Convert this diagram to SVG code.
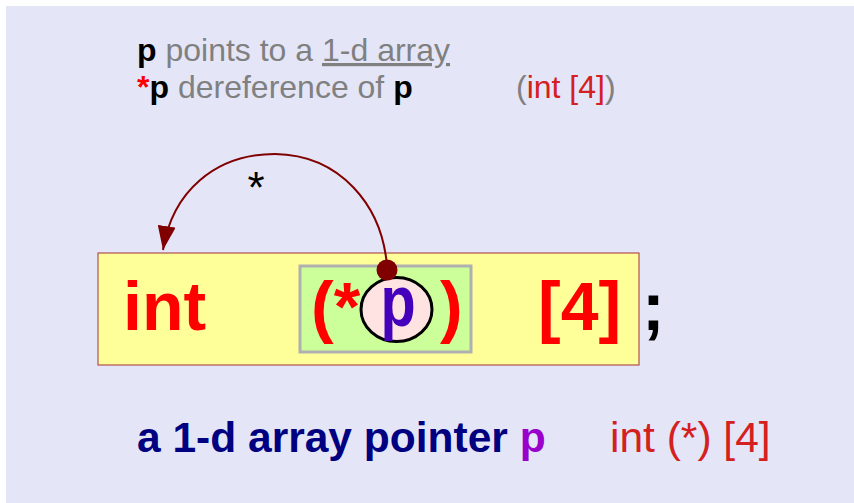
<svg xmlns="http://www.w3.org/2000/svg" width="854" height="503" viewBox="0 0 854 503">
<defs>
<style>
.sans{font-family:"Liberation Sans",Arial,sans-serif}
.gray{fill:#808080}
.blk{fill:#000;font-weight:bold}
.red{fill:#ff0000;font-weight:bold}
.dred{fill:#d42020}
.code{font-size:68px;font-weight:bold}
</style>
<marker id="arrow" markerWidth="24" markerHeight="18" refX="24" refY="9" orient="auto" markerUnits="userSpaceOnUse" viewBox="0 0 24 18">
<path d="M0,0 L24,9 L0,18 Z" fill="#800000"/>
</marker>
</defs>
<rect x="0" y="0" width="854" height="503" fill="#ffffff"/>
<rect x="6" y="6" width="848" height="497" fill="#e4e6f8"/>

<g id="caption" class="sans">
<text x="137" y="61" font-size="32"><tspan class="blk">p</tspan><tspan class="gray"> points to a </tspan><tspan class="gray" text-decoration="underline">1-d array</tspan></text>
<text x="137" y="98" font-size="32"><tspan class="red">*</tspan><tspan class="blk">p</tspan><tspan class="gray"> dereference of </tspan><tspan class="blk">p</tspan></text>
<text x="516" y="98" font-size="32"><tspan class="gray">(</tspan><tspan class="dred">int [4]</tspan><tspan class="gray">)</tspan></text>
</g>

<g id="decl">
<rect x="98" y="253" width="541" height="112" fill="#ffff99" stroke="#b05050" stroke-width="1.2"/>
<text class="sans code" x="123" y="330" fill="#ff0000">int</text>
<text class="sans code" x="538" y="330" fill="#ff0000">[4]</text>
<text class="sans code" x="642" y="330" fill="#000000">;</text>
</g>

<g id="ptr">
<rect x="300" y="266" width="171" height="86" fill="#ccff99" stroke="#b0b0b0" stroke-width="3"/>
<text class="sans code" x="311" y="330" fill="#ff0000">(*</text>
<text class="sans code" x="440" y="330" fill="#ff0000">)</text>
</g>

<g id="p-node">
<ellipse cx="396.5" cy="309.5" rx="35.5" ry="32" fill="#ffe2e2" stroke="#000" stroke-width="3"/>
<text class="sans" x="398" y="326" font-size="72" font-weight="bold" fill="#4400bb" text-anchor="middle" transform="translate(398 0) scale(0.8 1) translate(-398 0)">p</text>
</g>

<g id="connectors">
<path d="M387,266 C382,205 340,155 275,154 C215,154 172,192 163,250" fill="none" stroke="#800000" stroke-width="2" marker-end="url(#arrow)"/>
<circle cx="387" cy="270" r="10.5" fill="#800000"/>
<text class="sans" x="256" y="203" font-size="44" fill="#000" text-anchor="middle">*</text>
</g>

<g id="summary" class="sans" font-size="42.5">
<text x="137" y="452" font-weight="bold" fill="#000080">a 1-d array pointer <tspan fill="#9900cc">p</tspan></text>
<text x="610" y="452" fill="#d42020">int (*) [4]</text>
</g>
</svg>
